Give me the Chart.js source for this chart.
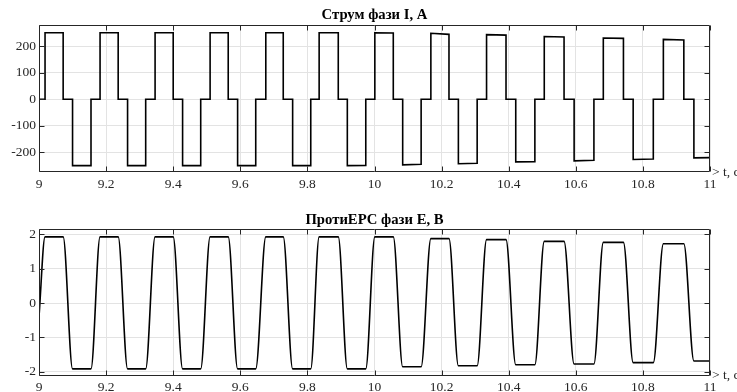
<!DOCTYPE html>
<html><head><meta charset="utf-8">
<script src="https://cdn.jsdelivr.net/npm/chart.js@4.4.0/dist/chart.umd.min.js"></script>
<style>
html,body{margin:0;padding:0;background:#fff;}
#wrap{position:relative;width:737px;height:392px;overflow:hidden;background:#fff;}
canvas{position:absolute;left:0;}
#c1{top:0;} #c2{top:196px;}
</style></head><body>
<div id="wrap"><canvas id="c1" width="737" height="196"></canvas><canvas id="c2" width="737" height="196"></canvas></div>
<script>
// ---- data ----
const xTicks = [9, 9.2, 9.4, 9.6, 9.8, 10, 10.2, 10.4, 10.6, 10.8, 11];
const xTickLabels = ['9','9.2','9.4','9.6','9.8','10','10.2','10.4','10.6','10.8','11'];
const yTicksCurrent = [-200, -100, 0, 100, 200];
const yTickLabelsCurrent = ['-200','-100','0','100','200'];
const yTicksEmf = [-2, -1, 0, 1, 2];
const yTickLabelsEmf = ['-2','-1','0','1','2'];

// switching instants, s
const posStart = [9.018, 9.182, 9.346, 9.510, 9.676, 9.835, 10.001, 10.168, 10.334, 10.506, 10.682, 10.861];
const posEnd   = [9.072, 9.236, 9.400, 9.564, 9.728, 9.892, 10.056, 10.222, 10.392, 10.565, 10.742, 10.922];
const negStart = [9.100, 9.264, 9.428, 9.592, 9.756, 9.919, 10.084, 10.250, 10.421, 10.595, 10.771, 10.952];
const negEnd   = [9.155, 9.318, 9.482, 9.646, 9.810, 9.974, 10.139, 10.306, 10.478, 10.654, 10.831, 11.000];

// phase current levels, A
const posLevelStart = [250, 250, 250, 250, 250, 250, 250, 248, 243, 236, 230, 225];
const posLevelEnd   = [250, 250, 250, 250, 250, 250, 249, 244, 241, 234, 229, 223];
const negLevelStart = [-250, -250, -250, -250, -250, -250, -247, -243, -236, -232, -227, -221];
const negLevelEnd   = [-250, -250, -250, -250, -250, -249, -245, -241, -235, -230, -225, -220];

// back-EMF plateau levels, V
const emfFirst = -0.4;
const emfTop = [1.93, 1.93, 1.93, 1.93, 1.93, 1.93, 1.93, 1.88, 1.85, 1.80, 1.77, 1.73];
const emfBot = [-1.92, -1.92, -1.92, -1.92, -1.92, -1.92, -1.86, -1.83, -1.80, -1.78, -1.74, -1.69];

// ---- build point tables ----
const currentPts = [{x: 9, y: 0}];
const emfPts = [{x: 9, y: emfFirst}];
for (let i = 0; i < posStart.length; i++) {
  currentPts.push({x: posStart[i], y: 0}, {x: posStart[i], y: posLevelStart[i]},
                  {x: posEnd[i], y: posLevelEnd[i]}, {x: posEnd[i], y: 0},
                  {x: negStart[i], y: 0}, {x: negStart[i], y: negLevelStart[i]},
                  {x: negEnd[i], y: negLevelEnd[i]});
  if (negEnd[i] < 11) currentPts.push({x: negEnd[i], y: 0});
  emfPts.push({x: posStart[i], y: emfTop[i]}, {x: posEnd[i], y: emfTop[i]},
              {x: negStart[i], y: emfBot[i]}, {x: negEnd[i], y: emfBot[i]});
}

const FONT = '"Liberation Serif", "Times New Roman", serif';
const TXT = '#262626';

const framePlugin = {
  id: 'frame',
  afterDatasetsDraw(chart, args, opts) {
    const {ctx, chartArea: a, scales: {x, y}} = chart;
    ctx.save();
    ctx.strokeStyle = TXT; ctx.lineWidth = 1;
    const L = Math.round(a.left) + 0.5, R = Math.round(a.right) - 0.5;
    const T = Math.round(a.top) + 0.5, B = Math.round(a.bottom) - 0.5;
    ctx.beginPath();
    ctx.rect(L, T, R - L, B - T);
    const tl = 5;
    x.ticks.forEach(t => {
      const px = Math.round(x.getPixelForValue(t.value)) + 0.5;
      ctx.moveTo(px, B); ctx.lineTo(px, B - tl);
      ctx.moveTo(px, T); ctx.lineTo(px, T + tl);
    });
    y.ticks.forEach(t => {
      const py = Math.round(y.getPixelForValue(t.value)) + 0.5;
      ctx.moveTo(L, py); ctx.lineTo(L + tl, py);
      ctx.moveTo(R, py); ctx.lineTo(R - tl, py);
    });
    ctx.stroke();
    ctx.fillStyle = TXT;
    ctx.font = '13.5px ' + FONT;
    ctx.textAlign = 'left'; ctx.textBaseline = 'alphabetic';
    ctx.fillText(opts.text, a.right + 2, a.bottom + 3.5);
    ctx.restore();
  }
};

function makeChart(id, pts, title, yMin, yMax, yTicks, yLabels, titlePad, xHeight, smooth) {
  return new Chart(document.getElementById(id), {
    type: 'line',
    data: {datasets: [{
      data: pts, borderColor: '#000', borderWidth: 1.6, pointRadius: 0,
      fill: false, tension: smooth ? 0.4 : 0,
      cubicInterpolationMode: smooth ? 'monotone' : 'default'
    }]},
    options: {
      responsive: false, animation: false, events: [],
      layout: {padding: {left: 0, right: 27, top: 0, bottom: 0}},
      plugins: {
        legend: {display: false}, tooltip: {enabled: false},
        title: {display: true, text: title, fullSize: false, color: '#000',
                font: {family: FONT, size: 14.7, weight: 'bold', lineHeight: 1.2},
                padding: titlePad},
        frame: {text: '> t, c'}
      },
      scales: {
        x: {
          type: 'linear', min: 9, max: 11,
          afterBuildTicks: s => { s.ticks = xTicks.map(v => ({value: v})); },
          afterFit: s => { s.height = xHeight; },
          grid: {color: '#e3e3e3', drawTicks: false, lineWidth: 1},
          border: {display: false},
          ticks: {color: TXT, font: {family: FONT, size: 13.5}, padding: 4, maxRotation: 0, autoSkip: false,
                  callback: (v, i) => xTickLabels[i]}
        },
        y: {
          type: 'linear', min: yMin, max: yMax,
          afterBuildTicks: s => { s.ticks = yTicks.map(v => ({value: v})); },
          afterFit: s => { s.width = 39; },
          grid: {color: '#e3e3e3', drawTicks: false, lineWidth: 1},
          border: {display: false},
          ticks: {color: TXT, font: {family: FONT, size: 13.5}, padding: 3,
                  callback: (v, i) => yLabels[i]}
        }
      }
    },
    plugins: [framePlugin]
  });
}

makeChart('c1', currentPts, 'Струм фази I, А', -274, 279, yTicksCurrent, yTickLabelsCurrent,
          {top: 6.2, bottom: 1.2}, 24, false);
makeChart('c2', emfPts, 'ПротиЕРС фази Е, В', -2.12, 2.15, yTicksEmf, yTickLabelsEmf,
          {top: 15.7, bottom: 0}, 16.3, true);
</script>
</body></html>
